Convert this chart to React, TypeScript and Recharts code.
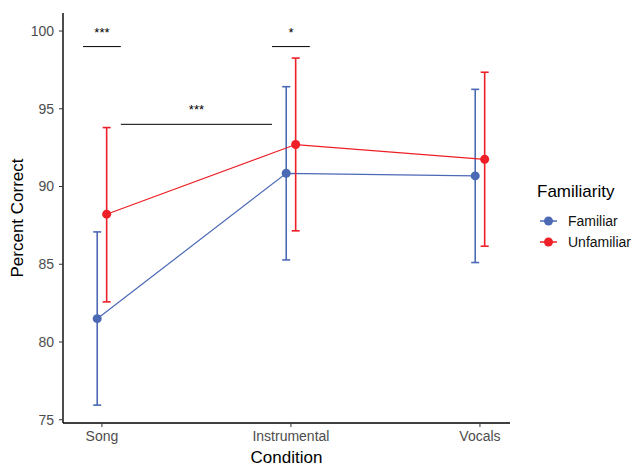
import React from "react";
import { ComposedChart, Line, XAxis, YAxis, ErrorBar, ReferenceLine, Label } from "recharts";

const categories = ["Song", "Instrumental", "Vocals"];
const familiarMean = [81.5, 90.85, 90.68];
const familiarLow = [75.94, 85.28, 85.11];
const familiarHigh = [87.08, 96.42, 96.25];
const unfamiliarMean = [88.22, 92.7, 91.75];
const unfamiliarLow = [82.58, 87.15, 86.16];
const unfamiliarHigh = [93.79, 98.26, 97.35];
const yTicks = [75, 80, 85, 90, 95, 100];

// significance brackets (x in category units)
const sigFrom = [0.9, 1.9, 1.1];
const sigTo = [1.1, 2.1, 1.9];
const sigY = [99, 99, 94];
const sigLabel = ["***", "*", "***"];

const BLUE = "#4B69B5";
const RED = "#EE1F26";
const FONT = "'Liberation Sans', Arial, Helvetica, sans-serif";
const DODGE = 0.025;

const rows = (mean: number[], low: number[], high: number[], shift: number) =>
  mean.map((m, i) => ({ x: i + 1 + shift, y: m, err: [m - low[i], high[i] - m] }));

const familiarRows = rows(familiarMean, familiarLow, familiarHigh, -DODGE);
const unfamiliarRows = rows(unfamiliarMean, unfamiliarLow, unfamiliarHigh, DODGE);

const series = [
  { name: "Familiar", color: BLUE, data: familiarRows },
  { name: "Unfamiliar", color: RED, data: unfamiliarRows },
];

function LegendBox() {
  return (
    <svg width={110} height={80} style={{ position: "absolute", left: 530, top: 176 }}>
      <text x={7} y={21} fontSize={17} fill="#000" fontFamily={FONT}>Familiarity</text>
      {series.map((s, i) => (
        <g key={s.name}>
          <line x1={10} x2={27} y1={45 + i * 21} y2={45 + i * 21} stroke={s.color} strokeWidth={1.5} />
          <circle cx={18.5} cy={45 + i * 21} r={4.5} fill={s.color} />
          <text x={38} y={50 + i * 21} fontSize={14} fill="#111" fontFamily={FONT}>{s.name}</text>
        </g>
      ))}
    </svg>
  );
}

export default function App() {
  return (
    <div style={{ position: "absolute", left: 0, top: 0, width: 634, height: 468, background: "#fff", fontFamily: FONT }}>
      <ComposedChart width={634} height={468} margin={{ top: 13, right: 124, bottom: 0, left: 0 }}>
        <XAxis
          type="number"
          dataKey="x"
          domain={[0.794, 3.159]}
          ticks={[1, 2, 3]}
          allowDataOverflow
          tickFormatter={(v: number) => categories[Math.round(v) - 1]}
          height={45}
          tickSize={4}
          tickMargin={4}
          axisLine={{ stroke: "#000", strokeWidth: 1.4 }}
          tickLine={{ stroke: "#333" }}
          tick={{ fill: "#4D4D4D", fontSize: 14, fontFamily: FONT }}
        >
          <Label
            content={({ viewBox }: any) => (
              <text x={viewBox.x + viewBox.width / 2} y={viewBox.y + 40} textAnchor="middle" fontSize={17} fill="#000" fontFamily={FONT}>
                Condition
              </text>
            )}
          />
        </XAxis>
        <YAxis
          type="number"
          domain={[74.79, 101.16]}
          ticks={yTicks}
          allowDataOverflow
          width={63}
          tickSize={4}
          tickMargin={5}
          axisLine={{ stroke: "#000", strokeWidth: 1.4 }}
          tickLine={{ stroke: "#333" }}
          tick={{ fill: "#4D4D4D", fontSize: 14, fontFamily: FONT }}
        >
          <Label
            content={({ viewBox }: any) => {
              const cy = viewBox.y + viewBox.height / 2;
              return (
                <text x={23} y={cy} transform={`rotate(-90 23 ${cy})`} textAnchor="middle" fontSize={17} fill="#000" fontFamily={FONT}>
                  Percent Correct
                </text>
              );
            }}
          />
        </YAxis>
        {sigY.map((y, i) => (
          <ReferenceLine
            key={i}
            segment={[{ x: sigFrom[i], y }, { x: sigTo[i], y }]}
            stroke="#000"
            strokeWidth={1}
            label={{ value: sigLabel[i], position: "top", offset: 10, fontSize: 13, fill: "#000", fontFamily: FONT }}
          />
        ))}
        {series.map((s) => (
          <Line
            key={s.name}
            data={s.data}
            dataKey="y"
            name={s.name}
            type="linear"
            stroke={s.color}
            strokeWidth={1.2}
            dot={{ r: 4.5, fill: s.color, stroke: s.color, strokeWidth: 0 }}
            activeDot={false}
            isAnimationActive={false}
          >
            <ErrorBar dataKey="err" direction="y" width={4} strokeWidth={1.6} stroke={s.color} isAnimationActive={false} />
          </Line>
        ))}
      </ComposedChart>
      <LegendBox />
    </div>
  );
}
